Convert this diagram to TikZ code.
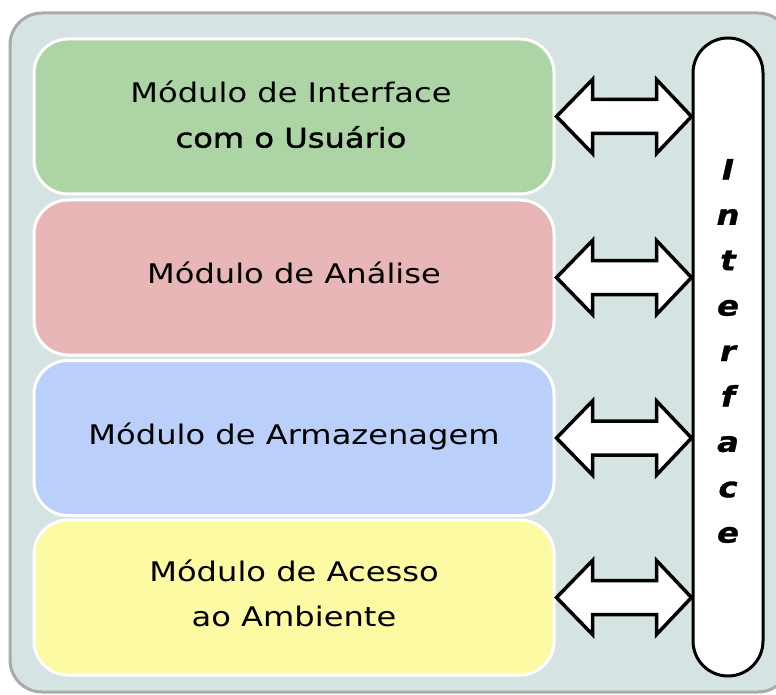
\documentclass[tikz,border=0pt]{standalone}
\usepackage{fontspec}
\setmainfont[FakeStretch=1.19]{DejaVu Sans}
\newfontfamily\semib[FakeStretch=1.19,FakeBold=1.5]{DejaVu Sans}
\newfontfamily\ifacefont[FakeStretch=1.15,FakeBold=1.2]{DejaVu Sans Bold Oblique}
\usetikzlibrary{calc}
\definecolor{gfill}{RGB}{172,212,164}
\definecolor{rfill}{RGB}{232,182,182}
\definecolor{bfill}{RGB}{186,208,250}
\definecolor{yfill}{RGB}{252,250,162}
\definecolor{ofill}{RGB}{214,227,227}
\definecolor{oline}{RGB}{168,170,172}
\tikzset{
  modbox/.style={draw=white, line width=3pt, rounded corners=34pt, minimum width=520pt, minimum height=155pt, inner sep=0pt},
  modtext/.style={align=center, font=\fontsize{27}{45}\selectfont, inner sep=0pt},
  dblarrow/.style={draw=black, fill=white, line width=3.5pt, line join=miter},
}
\begin{document}
\begin{tikzpicture}[x=1pt,y=-1pt]
\useasboundingbox (0,0) rectangle (776,695);
\draw[fill=ofill, draw=oline, line width=3pt, rounded corners=32pt] (10,13) rectangle (790,692);
\node[modbox, fill=gfill] (g) at (294,116.5) {};
\node[modbox, fill=rfill] (r) at (294,277.5) {};
\node[modbox, fill=bfill] (b) at (294,438) {};
\node[modbox, fill=yfill] (y) at (294,597.5) {};
\node[modtext] (gt) at ($(g.center)+(-3,-2)$) {Módulo de Interface\\{\semib com o Usuário}};
\node[modtext] (rt) at ($(r.center)+(0,-5)$) {Módulo de Análise};
\node[modtext] (bt) at ($(b.center)+(0,-1)$) {Módulo de Armazenagem};
\node[modtext] (yt) at ($(y.center)+(0,-4)$) {Módulo de Acesso\\ao Ambiente};
\node[draw=black, fill=white, line width=3pt, rounded corners=35pt, minimum width=70pt, minimum height=638pt, inner sep=0pt] (iface) at (728,357) {};
\node[align=center, inner sep=0pt, font=\fontsize{28}{45.4}\ifacefont] (itxt) at (728,351) {I\\n\\t\\e\\r\\f\\a\\c\\e};
\foreach \m in {g,r,b,y}{
  \coordinate (L) at ($(\m.east)+(1,0)$);
  \coordinate (R) at (iface.west |- \m.east);
  \draw[dblarrow] (L) -- ++(36,-37) -- ++(0,20) -- ($(R)+(-35,-17)$) -- ++(0,-20) -- (R) -- ++(-35,37) -- ++(0,-20) -- ($(L)+(36,17)$) -- ++(0,20) -- cycle;
}
\end{tikzpicture}
\end{document}
